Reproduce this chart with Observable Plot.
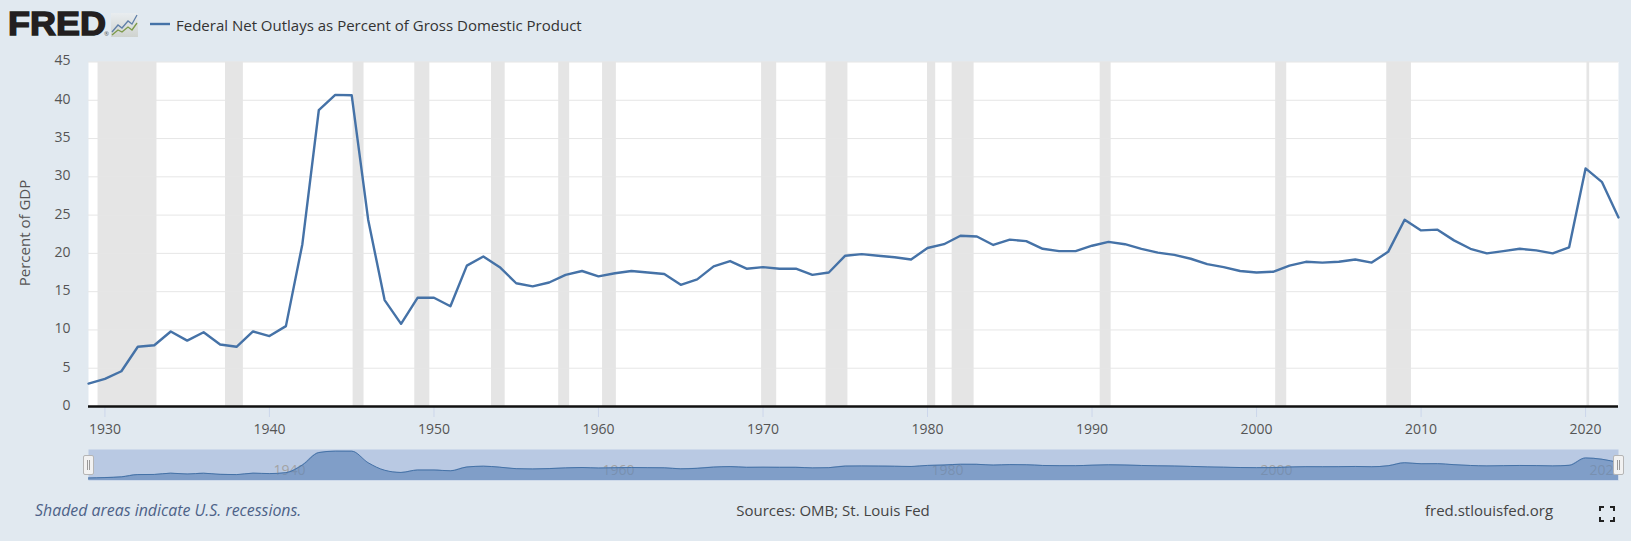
<!DOCTYPE html>
<html><head><meta charset="utf-8">
<script src="https://cdn.jsdelivr.net/npm/d3@7"></script>
<script src="https://cdn.jsdelivr.net/npm/@observablehq/plot@0.6"></script>
<style>
html,body{margin:0;padding:0;background:#e1e9f0;width:1631px;height:541px;overflow:hidden;font-family:"Open Sans",sans-serif}
.abs{position:absolute;white-space:nowrap}
svg.plot{position:absolute;background:transparent}
.handle{position:absolute;width:9px;height:18px;background:#f2f2f2;border:1px solid #b5b5b5;border-radius:2px;top:455px}
.handle:after{content:"";position:absolute;left:3px;top:4px;width:1px;height:10px;border-left:1px solid #999;border-right:1px solid #999}
</style></head><body>
<div id="root"></div>
<script>
const years = d3.range(1929, 2023);
const outlays = [3.0,3.6,4.6,7.8,8.0,9.8,8.6,9.7,8.1,7.8,9.8,9.2,10.5,21.2,38.7,40.7,40.65,24.4,13.9,10.8,14.2,14.2,13.1,18.4,19.6,18.2,16.1,15.7,16.2,17.2,17.7,17.0,17.4,17.7,17.5,17.3,15.9,16.6,18.3,19.0,18.0,18.2,18.0,18.0,17.2,17.5,19.7,19.9,19.7,19.5,19.2,20.7,21.2,22.3,22.2,21.1,21.8,21.6,20.6,20.3,20.3,21.0,21.5,21.2,20.6,20.1,19.8,19.3,18.6,18.2,17.7,17.5,17.6,18.4,18.9,18.8,18.9,19.2,18.8,20.2,24.4,23.0,23.1,21.7,20.6,20.0,20.3,20.6,20.4,20.0,20.8,31.1,29.3,24.7];
const recessionStarts = ["1929-08-01","1937-05-01","1945-02-01","1948-11-01","1953-07-01","1957-08-01","1960-04-01","1969-12-01","1973-11-01","1980-01-01","1981-07-01","1990-07-01","2001-03-01","2007-12-01","2020-02-01"];
const recessionEnds = ["1933-03-01","1938-06-01","1945-10-01","1949-10-01","1954-05-01","1958-04-01","1961-02-01","1970-11-01","1975-03-01","1980-07-01","1982-11-01","1991-03-01","2001-11-01","2009-06-01","2020-04-01"];
const yTicks = [0,5,10,15,20,25,30,35,40,45];
const xTickYears = d3.range(1930, 2021, 10);
const navLabelYears = [1940,1960,1980,2000,2020];

const d = s => new Date(s);
const yr = y => new Date(Date.UTC(y,0,1));
const series = years.map((y,i)=>({date:yr(y),value:outlays[i]}));
const recessions = recessionStarts.map((s,i)=>({start:d(s),end:d(recessionEnds[i])}));
const xDomain = [yr(1929),yr(2022)];
const blue = "#4572a7";
const font = '"Open Sans",sans-serif';

const main = Plot.plot({
  width:1631,height:440,marginLeft:88,marginRight:13,marginTop:61.5,marginBottom:34,
  style:{background:"transparent",fontFamily:font,overflow:"visible"},
  x:{type:"utc",domain:xDomain,label:null,axis:null},
  y:{domain:[0,45],label:null,axis:null},
  marks:[
    Plot.frame({fill:"#ffffff",stroke:null}),
    Plot.rectX(recessions,{x1:"start",x2:"end",y1:0,y2:45,fill:"#e5e5e5"}),
    Plot.gridY(yTicks,{stroke:"#e6e6e6",strokeOpacity:1,strokeWidth:1}),
    Plot.axisY(yTicks,{anchor:"left",tickSize:0,tickPadding:18,label:null,fontSize:14,fill:"#555",dy:-1}),
    Plot.axisX(xTickYears.map(yr),{anchor:"bottom",tickSize:11,tickFormat:"%Y",tickPadding:7,label:null,fontSize:14,fill:"#555",stroke:"#ccd6eb",textStroke:"none"}),
    Plot.line(series,{x:"date",y:"value",stroke:blue,strokeWidth:2.4,curve:"linear"}),
    Plot.ruleY([0],{stroke:"#111",strokeWidth:2.5})
  ]
});
main.classList.add("plot");
main.style.left="0";main.style.top="0";

const nav = Plot.plot({
  width:1631,height:31,marginLeft:88,marginRight:13,marginTop:0,marginBottom:0,
  style:{background:"transparent",fontFamily:font,overflow:"visible"},
  x:{type:"utc",domain:xDomain,axis:null},
  y:{domain:[-0.5,43],axis:null},
  marks:[
    Plot.frame({fill:"#b9c9e3",stroke:null}),
    Plot.text(navLabelYears,{x:v=>yr(v),frameAnchor:"bottom",dy:-6,text:v=>String(v),textAnchor:"start",fontSize:14,fill:"#a3a3a3",dx:4}),
    Plot.areaY(series,{x:"date",y1:-0.5,y2:"value",fill:"#5d84b8",fillOpacity:.62,curve:"monotone-x"}),
    Plot.line(series,{x:"date",y:"value",stroke:blue,strokeWidth:1,curve:"monotone-x"})
  ]
});
nav.classList.add("plot");
nav.style.left="0";nav.style.top="449px";

const root=document.getElementById("root");
root.append(main,nav);
const html=`
<div class="abs" style="left:8px;top:6px;font:900 33px/36px 'Liberation Sans',Inter,sans-serif;-webkit-text-stroke:1.4px #231f20;letter-spacing:0;color:#231f20;transform-origin:0 50%;transform:scaleX(1.09)">FRED</div>
<div class="abs" style="left:104px;top:30px;font-size:6px;line-height:8px;color:#555">®</div>
<svg class="abs" style="left:111px;top:13px" width="27" height="24" viewBox="0 0 27 24"><defs><linearGradient id="lg" x1="0" y1="0" x2="0" y2="1"><stop offset="0" stop-color="#e9edf0"/><stop offset="1" stop-color="#cfd3cf"/></linearGradient></defs><rect width="27" height="24" fill="url(#lg)"/><polyline points="1,19 7,12 11,15 17,8 21,11 26,2" fill="none" stroke="#5f7fa8" stroke-width="1.3"/><polyline points="1,22 7,17 11,19 17,14 21,17 26,10" fill="none" stroke="#7d9a4a" stroke-width="1.3"/></svg>
<svg class="abs" style="left:150px;top:22px" width="20" height="4"><line x1="0" y1="2" x2="20" y2="2" stroke="${blue}" stroke-width="2.4"/></svg>
<div class="abs" style="left:176px;top:13px;font-size:15px;line-height:24px;color:#333">Federal Net Outlays as Percent of Gross Domestic Product</div>
<div class="abs" style="left:24px;top:233px;transform:translate(-50%,-50%) rotate(-90deg);font-size:15px;color:#555">Percent of GDP</div>
<div class="handle" style="left:83px"></div><div class="handle" style="left:1613px"></div>
<div class="abs" style="left:35px;top:499px;font-size:15.9px;line-height:22px;font-style:italic;color:#4d6288">Shaded areas indicate U.S. recessions.</div>
<div class="abs" style="left:833px;top:499px;transform:translateX(-50%);font-size:15px;line-height:22px;color:#444">Sources: OMB; St. Louis Fed</div>
<div class="abs" style="left:1425px;top:499px;font-size:15px;line-height:22px;color:#444">fred.stlouisfed.org</div>
<svg class="abs" style="left:1599px;top:506px" width="16" height="16" fill="none" stroke="#222" stroke-width="2"><path d="M1 5V1H5M11 1H15V5M15 11V15H11M5 15H1V11"/></svg>`;
root.insertAdjacentHTML("beforeend",html);
</script>
</body></html>
